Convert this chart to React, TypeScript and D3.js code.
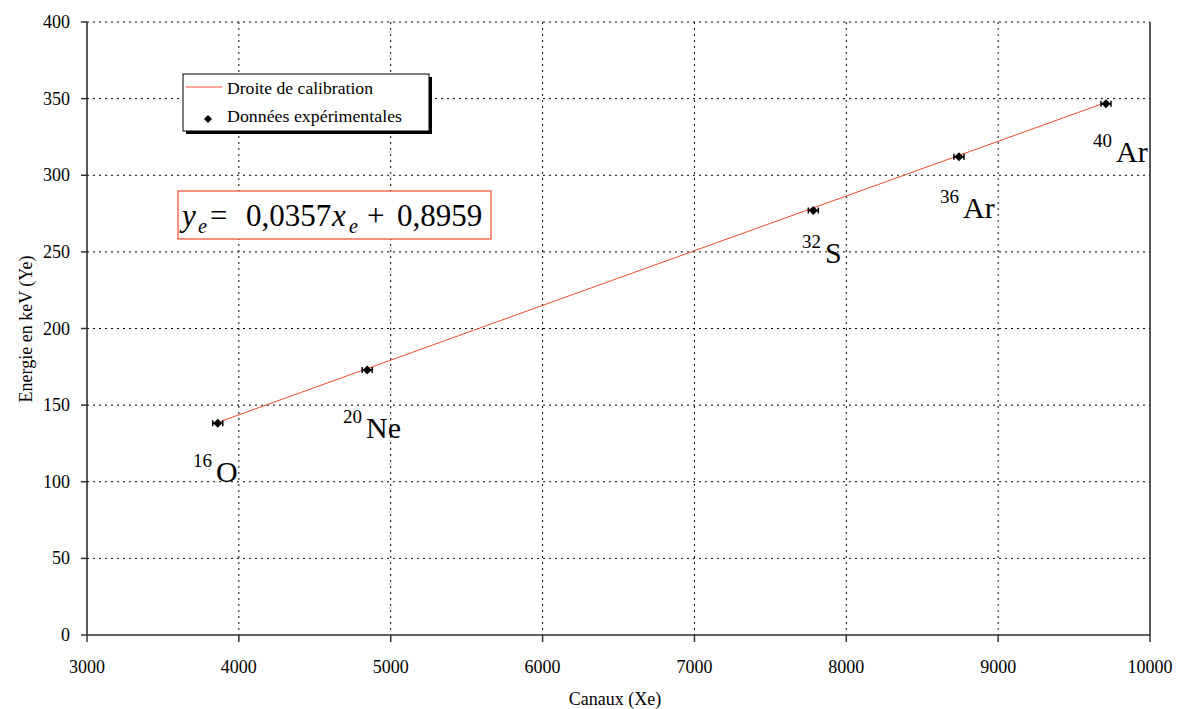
import React from "react";
import * as d3 from "d3";

// ---- data ----
const channels = [3861, 4845, 7783, 8742, 9710];
const energies = [138.2, 173.0, 277.0, 312.0, 346.6];
const isotopes = ["O", "Ne", "S", "Ar", "Ar"];
const massNumbers = ["16", "20", "32", "36", "40"];
// label anchor (data units) for each isotope label
const labelX = [3698, 4686, 7708, 8617, 9625];
const labelY = [109.6, 138.3, 252.5, 281.9, 318.4];
// calibration line endpoints (from y = 0.0357x + 0.8959)
const fitX = [3861, 9710];
const fitY = [138.7, 347.5];
const xTicks = [3000, 4000, 5000, 6000, 7000, 8000, 9000, 10000];
const yTicks = [0, 50, 100, 150, 200, 250, 300, 350, 400];

const W = 1177;
const H = 709;
const left = 87;
const right = 1150;
const top = 22;
const bottom = 635;
const FONT = "'Liberation Serif', 'Times New Roman', serif";
const RED = "#f24a2c";

export default function App() {
  const x = d3.scaleLinear().domain([3000, 10000]).range([left, right]);
  const y = d3.scaleLinear().domain([0, 400]).range([bottom, top]);
  const line = d3
    .line<number>()
    .x((_, i) => x(fitX[i]))
    .y((_, i) => y(fitY[i]));

  const diamond = (cx: number, cy: number, r: number) =>
    `M${cx},${cy - r}L${cx + r},${cy}L${cx},${cy + r}L${cx - r},${cy}Z`;

  return (
    <svg
      width={W}
      height={H}
      style={{ position: "absolute", left: 0, top: 0, background: "#fff", fontFamily: FONT }}
    >
      <rect width={W} height={H} fill="#fff" />
      {/* grid */}
      {yTicks.slice(1).map((t) => (
        <line
          key={"gy" + t}
          x1={left}
          x2={right}
          y1={y(t)}
          y2={y(t)}
          stroke="#000"
          strokeWidth={1}
          strokeDasharray="2,4"
        />
      ))}
      {xTicks.slice(1, -1).map((t) => (
        <line
          key={"gx" + t}
          x1={x(t)}
          x2={x(t)}
          y1={top}
          y2={bottom}
          stroke="#000"
          strokeWidth={1}
          strokeDasharray="2,4"
        />
      ))}
      {/* axes */}
      <line x1={left} x2={left} y1={top} y2={bottom} stroke="#222" strokeWidth={1.5} />
      <line x1={right} x2={right} y1={top} y2={bottom} stroke="#222" strokeWidth={1.5} />
      <line x1={left} x2={right} y1={bottom} y2={bottom} stroke="#333" strokeWidth={1.5} />
      {yTicks.map((t) => (
        <g key={"ty" + t}>
          <line x1={left - 6} x2={left} y1={y(t)} y2={y(t)} stroke="#333" strokeWidth={1.5} />
          <text x={70} y={y(t) + 6} textAnchor="end" fontSize={18} style={{ fontFamily: FONT }}>
            {t}
          </text>
        </g>
      ))}
      {xTicks.map((t) => (
        <g key={"tx" + t}>
          <line x1={x(t)} x2={x(t)} y1={bottom} y2={bottom + 7} stroke="#333" strokeWidth={1.5} />
          <text x={x(t)} y={673} textAnchor="middle" fontSize={18} style={{ fontFamily: FONT }}>
            {t}
          </text>
        </g>
      ))}
      <text x={615} y={705} textAnchor="middle" fontSize={18} style={{ fontFamily: FONT }}>
        Canaux (Xe)
      </text>
      <text
        transform={`translate(32,329) rotate(-90)`}
        textAnchor="middle"
        fontSize={18}
        style={{ fontFamily: FONT }}
      >
        Energie en keV (Ye)
      </text>

      {/* calibration line */}
      <path d={line(fitX) || ""} fill="none" stroke={RED} strokeWidth={1} />

      {/* data points */}
      {channels.map((c, i) => {
        const cx = x(c);
        const cy = y(energies[i]);
        return (
          <g key={"p" + i}>
            <line x1={cx - 5} x2={cx + 5} y1={cy} y2={cy} stroke="#000" strokeWidth={1.5} />
            <line x1={cx - 5} x2={cx - 5} y1={cy - 3} y2={cy + 3} stroke="#000" strokeWidth={1.5} />
            <line x1={cx + 5} x2={cx + 5} y1={cy - 3} y2={cy + 3} stroke="#000" strokeWidth={1.5} />
            <path d={diamond(cx, cy, 4.5)} fill="#000" />
          </g>
        );
      })}

      {/* isotope labels */}
      {isotopes.map((el, i) => {
        const lx = x(labelX[i]);
        const ly = y(labelY[i]);
        return (
          <text key={"l" + i} x={lx} y={ly + 15} fontSize={30} style={{ fontFamily: FONT }}>
            <tspan fontSize={19} dy={-15}>
              {massNumbers[i]}
            </tspan>
            <tspan dx={4} dy={15}>
              {el}
            </tspan>
          </text>
        );
      })}

      {/* legend */}
      <rect x={186} y={77} width={246} height={57} fill="#000" />
      <rect x={183} y={74} width={246} height={57} fill="#fff" stroke="#000" strokeWidth={1} />
      <line x1={186} x2={222} y1={87} y2={87} stroke={RED} strokeWidth={1} />
      <text
        x={227}
        y={94}
        fontSize={17.5}
        textLength={146}
        lengthAdjust="spacingAndGlyphs"
        style={{ fontFamily: FONT }}
      >
        Droite de calibration
      </text>
      <path d={diamond(208, 119, 4)} fill="#000" />
      <text
        x={227}
        y={122}
        fontSize={17.5}
        textLength={175}
        lengthAdjust="spacingAndGlyphs"
        style={{ fontFamily: FONT }}
      >
        Données expérimentales
      </text>

      {/* equation */}
      <rect x={178} y={191} width={313} height={48} fill="#fff" stroke={RED} strokeWidth={1.2} />
      <g fontSize={31} style={{ fontFamily: FONT }}>
        <text x={182} y={226} fontStyle="italic">y</text>
        <text x={198} y={233} fontStyle="italic" fontSize={20}>e</text>
        <text x={210} y={226}>=</text>
        <text x={246} y={226}>0,0357</text>
        <text x={332} y={226} fontStyle="italic">x</text>
        <text x={349} y={233} fontStyle="italic" fontSize={20}>e</text>
        <text x={367} y={226}>+</text>
        <text x={397} y={226}>0,8959</text>
      </g>
    </svg>
  );
}
